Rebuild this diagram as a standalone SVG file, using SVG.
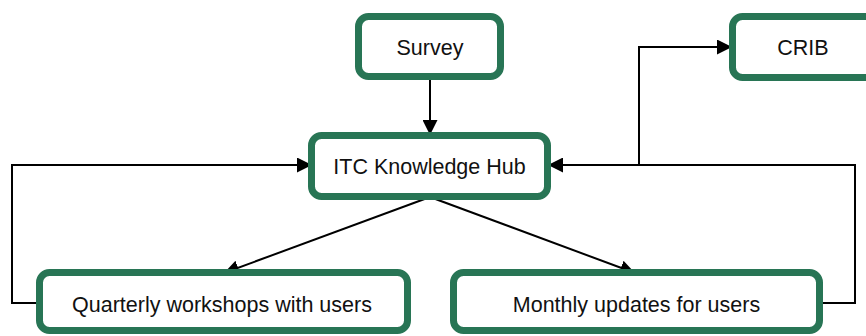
<svg xmlns="http://www.w3.org/2000/svg" width="866" height="336" viewBox="0 0 866 336">
  <style>
    .box { fill: #ffffff; stroke: #287555; stroke-width: 7; }
    .label { font-family: "Liberation Sans", Arial, sans-serif; font-size: 21.5px; fill: #111111; text-anchor: middle; }
    .link { fill: none; stroke: #000000; stroke-width: 2; }
  </style>
  <defs>
    <marker id="arrow" markerUnits="userSpaceOnUse" markerWidth="15" markerHeight="15" viewBox="0 0 15 15" refX="15" refY="7.5" orient="auto">
      <path d="M0,0 L15,7.5 L0,15 Z" fill="#000000"/>
    </marker>
  </defs>

  <rect width="866" height="336" fill="#ffffff"/>

  <g id="connectors">
    <!-- Survey to hub -->
    <path class="link" d="M430,80 L430,135" marker-end="url(#arrow)"/>
    <!-- hub to the two outputs -->
    <path class="link" d="M430,197 L224,273" marker-end="url(#arrow)"/>
    <path class="link" d="M430,197 L635,273" marker-end="url(#arrow)"/>
    <!-- workshops feed back into hub -->
    <path class="link" d="M40,303 L12,303 L12,165 L312,165" marker-end="url(#arrow)"/>
    <!-- monthly updates feed back into hub -->
    <path class="link" d="M820,303 L855,303 L855,165 L548,165" marker-end="url(#arrow)"/>
    <!-- branch up to CRIB -->
    <path class="link" d="M639,165 L639,47 L732,47" marker-end="url(#arrow)"/>
  </g>

  <g id="survey">
    <rect class="box" x="358.5" y="16.5" width="142" height="60" rx="10"/>
    <text class="label" x="430" y="55">Survey</text>
  </g>

  <g id="crib">
    <rect class="box" x="732.5" y="16.5" width="160" height="61" rx="10"/>
    <text class="label" x="803" y="55">CRIB</text>
  </g>

  <g id="hub">
    <rect class="box" x="311.5" y="135.5" width="236" height="61" rx="10"/>
    <text class="label" x="429.5" y="174">ITC Knowledge Hub</text>
  </g>

  <g id="workshops">
    <rect class="box" x="39.5" y="272.5" width="368" height="58" rx="10"/>
    <text class="label" x="222" y="312">Quarterly workshops with users</text>
  </g>

  <g id="updates">
    <rect class="box" x="453.5" y="272.5" width="366" height="58" rx="10"/>
    <text class="label" x="636.5" y="312">Monthly updates for users</text>
  </g>
</svg>
